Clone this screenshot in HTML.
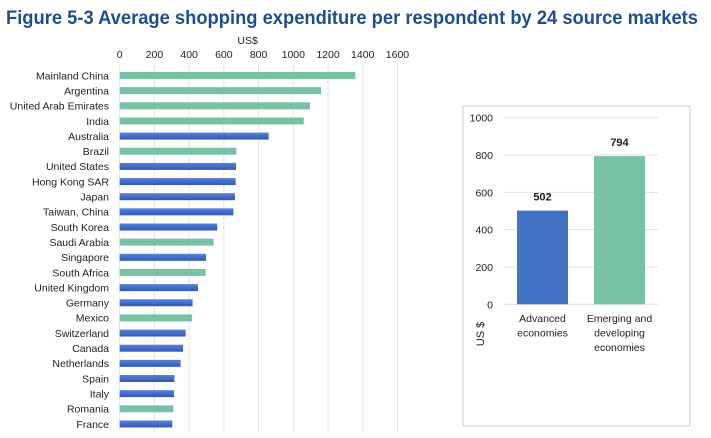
<!DOCTYPE html>
<html><head><meta charset="utf-8"><style>
body{margin:0;background:#fff;font-family:"Liberation Sans",sans-serif;}
#wrap{position:relative;width:711px;height:438px;overflow:hidden;}
</style></head><body>
<div id="wrap">
<svg id="svg" width="711" height="438" style="position:absolute;left:0;top:0">
<defs><linearGradient id="bg" x1="0" y1="0" x2="0" y2="1"><stop offset="0" stop-color="#5a82d8"/><stop offset="1" stop-color="#2f58b8"/></linearGradient></defs>
<text x="6" y="24" font-size="19" font-weight="bold" fill="#1f4e8c" textLength="692" lengthAdjust="spacingAndGlyphs">Figure 5-3 Average shopping expenditure per respondent by 24 source markets</text>
</svg>
</div>
<script>
const countries=["Mainland China","Argentina","United Arab Emirates","India","Australia","Brazil","United States","Hong Kong SAR","Japan","Taiwan, China","South Korea","Saudi Arabia","Singapore","South Africa","United Kingdom","Germany","Mexico","Switzerland","Canada","Netherlands","Spain","Italy","Romania","France"];
const values=[1357,1160,1096,1060,858,672,670,668,664,655,562,541,497,495,451,420,417,380,365,351,315,313,309,303];
const emerging=[1,1,1,1,0,1,0,0,0,0,0,1,0,1,0,0,1,0,0,0,0,0,1,0];
const xTicks=[0,200,400,600,800,1000,1200,1400,1600];
const groups=["Advanced economies","Emerging and developing economies"];
const groupValues=[502,794];
const yTicks=[0,200,400,600,800,1000];
const svg=document.getElementById('svg');const NS='http://www.w3.org/2000/svg';
function mk(t,a,p){const e=document.createElementNS(NS,t);for(const k in a)e.setAttribute(k,a[k]);(p||svg).appendChild(e);return e;}
const GREEN='#78c2a4',BLUE='url(#bg)';
const x=v=>119.7+v*0.1736;const y=i=>75.5+i*15.15;
xTicks.forEach(t=>{const l=mk('line',{x1:x(t),x2:x(t),y1:64,y2:432,stroke:'#e4e4e4','stroke-width':1});

const tx=mk('text',{x:x(t),y:58,'text-anchor':'middle','font-size':10.5,fill:'#222'});tx.textContent=t;
});
const ut=mk('text',{x:x(800)-11,y:44,'text-anchor':'middle','font-size':10.5,fill:'#222'});ut.textContent='US$';

countries.forEach((c,i)=>{const r=mk('rect',{x:x(0),y:y(i)-3.5,width:x(values[i])-x(0),height:7,fill:emerging[i]?GREEN:BLUE});

const t=mk('text',{x:109,y:y(i)+3.8,'text-anchor':'end','font-size':10.5,fill:'#222'});t.textContent=c;
});
const box=mk('rect',{x:463,y:106,width:227,height:320,fill:'none',stroke:'#ccc','stroke-width':1});

const yy=v=>304.3-v*0.1866;
yTicks.forEach(t=>{const l=mk('line',{x1:503,x2:658,y1:yy(t),y2:yy(t),stroke:'#e0e0e0','stroke-width':1});

const tx=mk('text',{x:493,y:yy(t)+4,'text-anchor':'end','font-size':10.5,fill:'#222'});tx.textContent=t;
});
const gx=[517,594];const lbl=[["Advanced","economies"],["Emerging and","developing","economies"]];
groups.forEach((g,i)=>{const r=mk('rect',{x:gx[i],y:yy(groupValues[i]),width:51,height:yy(0)-yy(groupValues[i]),fill:i?GREEN:'#4472c4'});

const v=mk('text',{x:gx[i]+25.5,y:yy(groupValues[i])-10,'text-anchor':'middle','font-size':11,'font-weight':'bold',fill:'#222'});v.textContent=groupValues[i];

lbl[i].forEach((s,j)=>{const t=mk('text',{x:gx[i]+25.5,y:322+j*14.5,'text-anchor':'middle','font-size':10.5,fill:'#222'});t.textContent=s;
});});
const ya=mk('text',{x:0,y:0,transform:'translate(484,334) rotate(-90)','text-anchor':'middle','font-size':11,fill:'#222'});ya.textContent='US $';

</script>
</body></html>
